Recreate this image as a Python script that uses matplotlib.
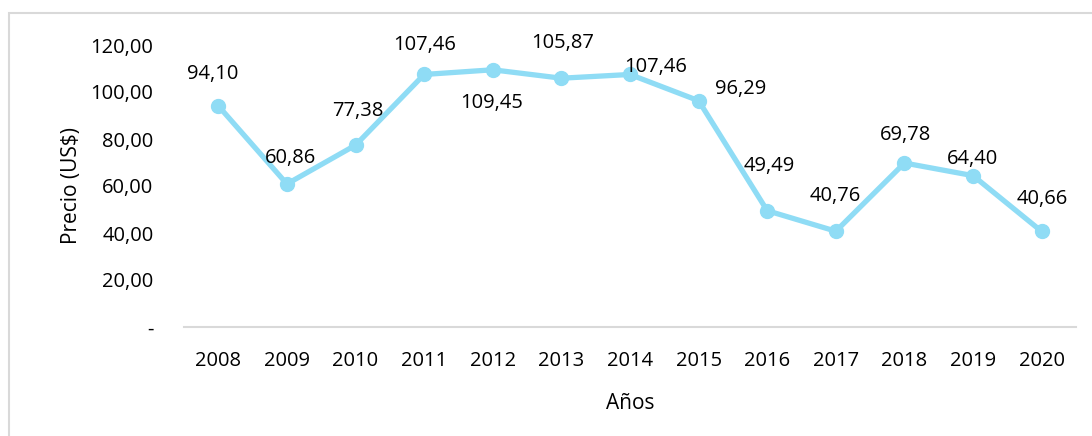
import matplotlib
matplotlib.use("Agg")
import matplotlib.pyplot as plt
from matplotlib.patches import Rectangle

years = ["2008", "2009", "2010", "2011", "2012", "2013", "2014", "2015", "2016", "2017", "2018", "2019", "2020"]
prices = [94.10, 60.86, 77.38, 107.46, 109.45, 105.87, 107.46, 96.29, 49.49, 40.76, 69.78, 64.40, 40.66]
yticks = [0, 20, 40, 60, 80, 100, 120]

# label offsets in pixels (dx, dy) relative to each point
offsets = [(-6, 32), (4, 26), (2, 34), (0, 29), (-1, -33), (1, 35), (26, 7), (42, 12),
           (2, 45), (-1, 35), (1, 28), (-1, 17), (1, 32)]

def fmt(v):
    return f"{v:.2f}".replace(".", ",")

W, H = 1092, 436
fig = plt.figure(figsize=(W / 100, H / 100), dpi=100)
plt.rcParams['font.family'] = ['Open Sans', 'DejaVu Sans']
FS = 14.5

ax = fig.add_axes([184 / W, 1 - 327 / H, (1076 - 184) / W, (327 - 45) / H])
x = list(range(len(years)))
color = "#8FDCF5"
ax.plot(x, prices, color=color, lw=3.8, marker="o", ms=10, mfc=color, mec=color,
        solid_capstyle="round", zorder=3)

for xi, v, (dx, dy) in zip(x, prices, offsets):
    ax.annotate(fmt(v), (xi, v), xytext=(dx, dy), textcoords="offset pixels",
                ha="center", va="center", fontsize=FS, color="#000000")

ax.set_xlim(-0.5, len(years) - 0.5)
ax.set_ylim(0, 120)
ax.set_xticks(x)
ax.set_xticklabels(years, fontsize=FS)
ax.set_yticks(yticks)
ax.set_yticklabels(["-" if t == 0 else fmt(t) for t in yticks], fontsize=FS)
ax.tick_params(length=0)
ax.tick_params(axis="x", pad=17)
ax.tick_params(axis="y", pad=22)
for s in ["top", "right", "left"]:
    ax.spines[s].set_visible(False)
ax.spines["bottom"].set_color("#D9D9D9")
ax.spines["bottom"].set_linewidth(1.5)

ax.set_xlabel("Años", fontsize=FS + 0.5, labelpad=16)
ax.set_ylabel("Precio (US$)", fontsize=FS + 0.5, labelpad=6)

fig.patches.append(Rectangle((9 / W, -0.05), 1.2, 1 - 13 / H + 0.05, transform=fig.transFigure,
                             fill=False, ec="#D9D9D9", lw=1.5))

fig.savefig("out.png", dpi=100)
